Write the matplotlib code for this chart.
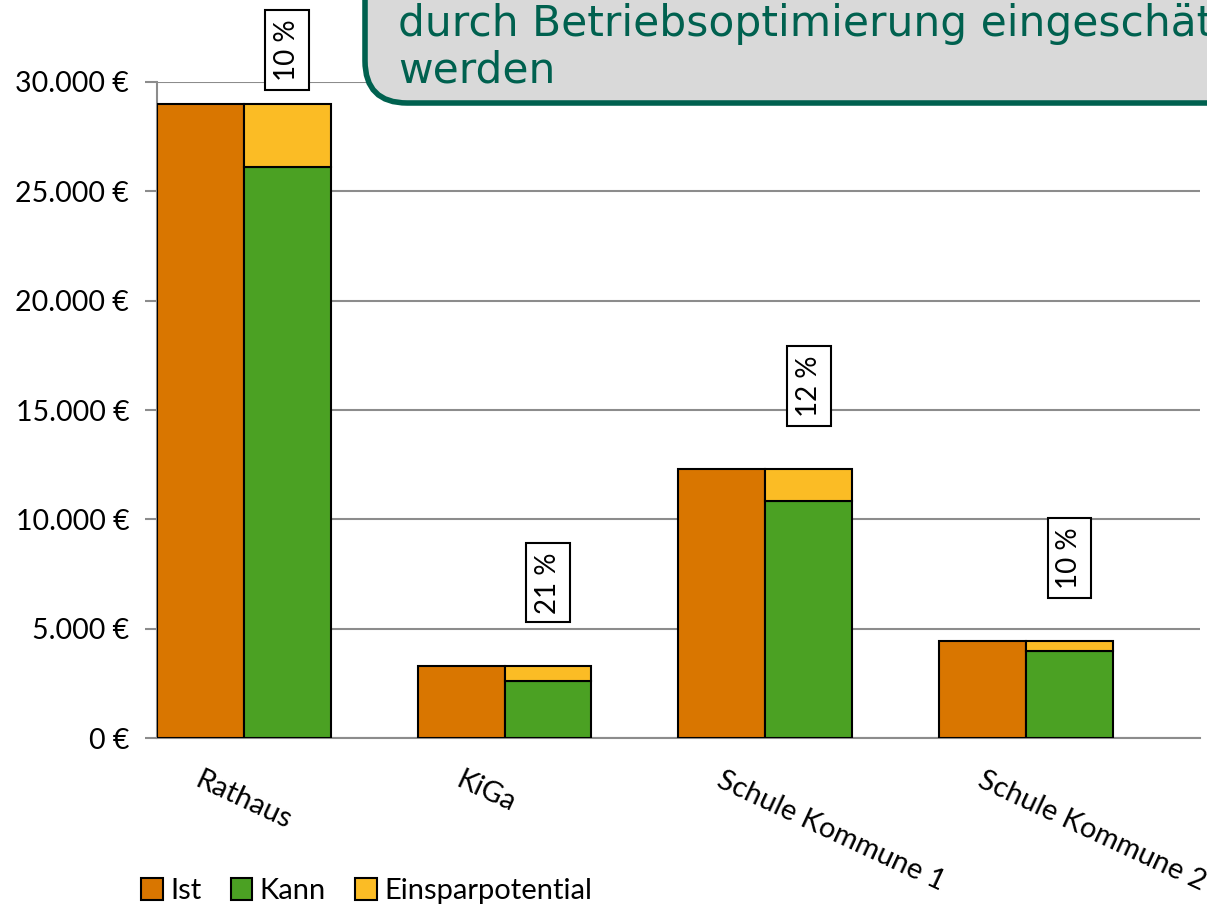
import matplotlib
matplotlib.use("Agg")
import matplotlib.pyplot as plt
from matplotlib.patches import FancyBboxPatch
from matplotlib.ticker import FuncFormatter

# --- Daten ---
categories = ["Rathaus", "KiGa", "Schule Kommune 1", "Schule Kommune 2"]
ist = [29000, 3300, 12300, 4430]
kann = [26100, 2600, 10820, 3980]
pct_labels = ["10 %", "21 %", "12 %", "10 %"]
spar = [i - k for i, k in zip(ist, kann)]

C_IST = "#d97600"
C_KANN = "#4ba123"
C_SPAR = "#fbbc25"
GRID = "#8c8c8c"
TEAL = "#00614f"

plt.rcParams["font.family"] = ["Lato", "DejaVu Sans"]

fig = plt.figure(figsize=(12.07, 9.06), dpi=100)
ax = fig.add_axes([0.130, 0.1854, 0.864, 0.7241])

w = 1 / 3
x = range(len(categories))
xi = [p - w / 2 for p in x]
xk = [p + w / 2 for p in x]
ax.bar(xi, ist, w, color=C_IST, edgecolor="black", linewidth=1.5, label="Ist", zorder=3)
ax.bar(xk, kann, w, color=C_KANN, edgecolor="black", linewidth=1.5, label="Kann", zorder=3)
ax.bar(xk, spar, w, bottom=kann, color=C_SPAR, edgecolor="black", linewidth=1.5,
       label="Einsparpotential", zorder=3)

ax.set_xlim(-w, len(categories) - 1 + 2 * w)
ax.set_ylim(0, 30000)
ax.set_yticks(range(0, 30001, 5000))
ax.yaxis.set_major_formatter(FuncFormatter(lambda v, p: f"{v:,.0f} €".replace(",", ".")))
ax.tick_params(axis="y", labelsize=20.5, length=9, width=1.5, color=GRID, pad=11)
ax.set_xticks([])
ax.grid(axis="y", color=GRID, linewidth=1.5, zorder=0)
for s in ["top", "right"]:
    ax.spines[s].set_visible(False)
for s in ["left", "bottom"]:
    ax.spines[s].set_color(GRID)
    ax.spines[s].set_linewidth(1.5)

# Kategorienbeschriftung (schräg)
for p, name in zip(x, categories):
    ax.annotate(name, xy=(p, 0), xycoords="data", xytext=(-47, -41),
                textcoords="offset pixels", rotation=-25, rotation_mode="anchor",
                ha="left", va="center", fontsize=21, annotation_clip=False)

# Prozent-Labels
for p, top, lab in zip(xk, ist, pct_labels):
    y = min(top + 3800, 31460)
    ax.text(p, y, lab, rotation=90, ha="center", va="center", fontsize=20,
            bbox=dict(boxstyle="square,pad=0.32", fc="white", ec="black", lw=1.5),
            zorder=5, clip_on=False)

# Textbox oben (im Original am Rand abgeschnitten)
box = FancyBboxPatch((365 / 1207, 1 - 103 / 906), 0.8, 0.3,
                     boxstyle="round,pad=0,rounding_size=0.035",
                     transform=fig.transFigure, fc="#d9d9d9", ec=TEAL, lw=4,
                     mutation_aspect=1207 / 906, zorder=10, clip_on=False)
fig.patches.append(box)
fig.text(398 / 1207, 1 - 47 / 906, "durch Betriebsoptimierung eingeschätzt\nwerden",
         family="DejaVu Sans", fontsize=30.5, color=TEAL, ha="left", va="center",
         linespacing=1.13, zorder=11)

fig.legend(loc="lower left", bbox_to_anchor=(141 / 1207, 2 / 906), ncol=3, frameon=False,
           fontsize=21, handlelength=0.75, handleheight=0.75, handletextpad=0.25,
           columnspacing=1.0, borderpad=0, borderaxespad=0)

fig.savefig("out.png", dpi=100)
